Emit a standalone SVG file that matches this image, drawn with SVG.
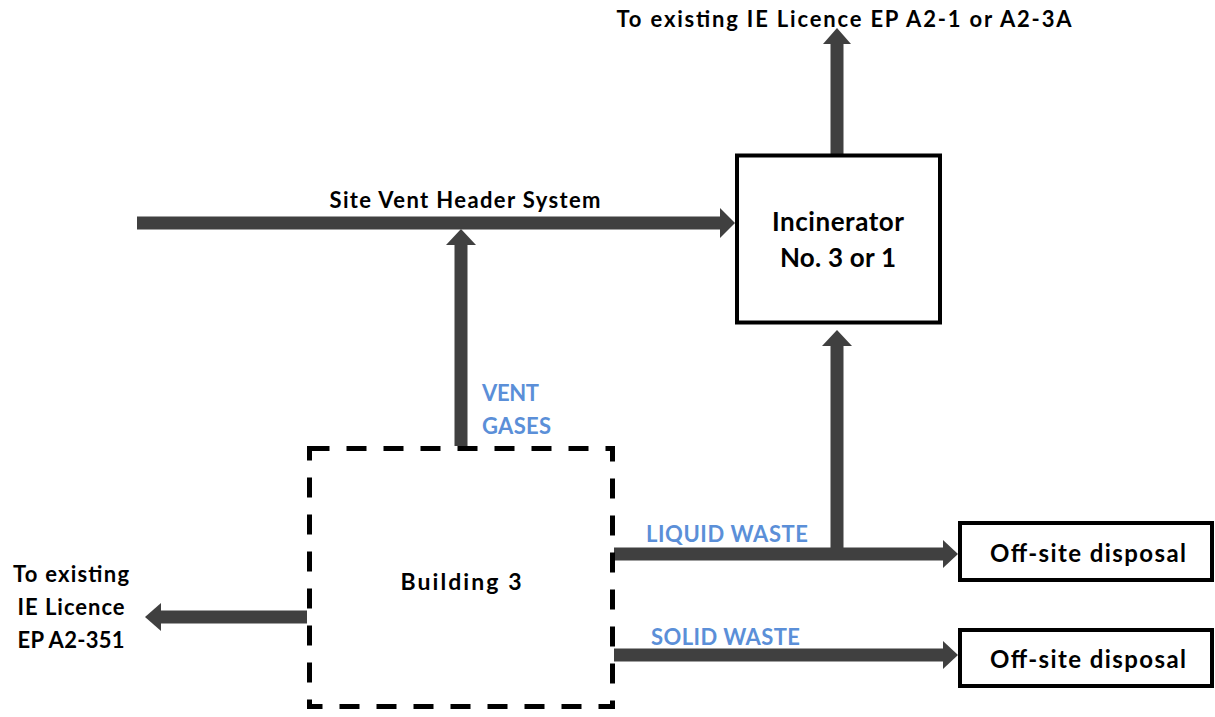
<svg xmlns="http://www.w3.org/2000/svg" width="1215" height="717" viewBox="0 0 1215 717">
<style>
.t{font-family:Lato,"Open Sans","Liberation Sans",sans-serif;font-weight:bold;fill:#000}
.b{font-family:Lato,"Open Sans","Liberation Sans",sans-serif;font-weight:bold;fill:#5B8FD8}
.box{fill:#fff;stroke:#000;stroke-width:4}
.shaft{stroke:#404040;stroke-width:13;fill:none}
.head{fill:#404040}
</style>
<rect width="1215" height="717" fill="#fff"/>
<g id="connectors">
  <line class="shaft" x1="837" y1="155" x2="837" y2="42"/>
  <polygon class="head" points="837,28 851,44 823,44"/>
  <line class="shaft" x1="137" y1="223" x2="722" y2="223"/>
  <polygon class="head" points="735,223 720,208 720,238"/>
  <line class="shaft" x1="461" y1="446" x2="461" y2="242"/>
  <polygon class="head" points="461,229 476,245 446,245"/>
  <line class="shaft" x1="614" y1="554" x2="945" y2="554"/>
  <polygon class="head" points="958,554 943,540 943,568"/>
  <line class="shaft" x1="837" y1="554" x2="837" y2="343"/>
  <polygon class="head" points="837,330 852,346 822,346"/>
  <line class="shaft" x1="614" y1="655" x2="945" y2="655"/>
  <polygon class="head" points="958,655 943,641 943,669"/>
  <line class="shaft" x1="307" y1="617" x2="158" y2="617"/>
  <polygon class="head" points="145,617 161,603 161,631"/>
</g>
<g id="incinerator">
  <rect class="box" x="737" y="155.5" width="203" height="167" stroke-width="5"/>
  <text class="t" x="838" y="231" font-size="26" text-anchor="middle" textLength="132">Incinerator</text>
  <text class="t" x="838" y="267" font-size="26" text-anchor="middle" textLength="116">No. 3 or 1</text>
</g>
<g id="building3">
  <rect x="309.5" y="448.5" width="303" height="258" fill="none" stroke="#000" stroke-width="5" stroke-dasharray="20 17"/>
  <text class="t" x="461" y="590" font-size="23" text-anchor="middle" textLength="121">Building 3</text>
</g>
<g id="offsite1">
  <rect class="box" x="960" y="523" width="252" height="57" stroke-width="3"/>
  <text class="t" x="1088" y="562" font-size="24" text-anchor="middle" textLength="196">Off-site disposal</text>
</g>
<g id="offsite2">
  <rect class="box" x="960" y="630" width="252" height="56" stroke-width="3"/>
  <text class="t" x="1088" y="668" font-size="24" text-anchor="middle" textLength="196">Off-site disposal</text>
</g>
<g id="labels">
  <text class="t" x="844" y="27" font-size="22" text-anchor="middle" textLength="455">To existing IE Licence EP A2-1 or A2-3A</text>
  <text class="t" x="465" y="208" font-size="22" text-anchor="middle" textLength="271">Site Vent Header System</text>
  <text class="b" x="482" y="401" font-size="22" textLength="57">VENT</text>
  <text class="b" x="482" y="434" font-size="22" textLength="69">GASES</text>
  <text class="b" x="646" y="542" font-size="22" textLength="162">LIQUID WASTE</text>
  <text class="b" x="651" y="645" font-size="22" textLength="149">SOLID WASTE</text>
  <text class="t" x="71" y="582" font-size="22" text-anchor="middle" textLength="116">To existing</text>
  <text class="t" x="71" y="615" font-size="22" text-anchor="middle" textLength="107">IE Licence</text>
  <text class="t" x="71" y="648" font-size="22" text-anchor="middle" textLength="107">EP A2-351</text>
</g>
</svg>
